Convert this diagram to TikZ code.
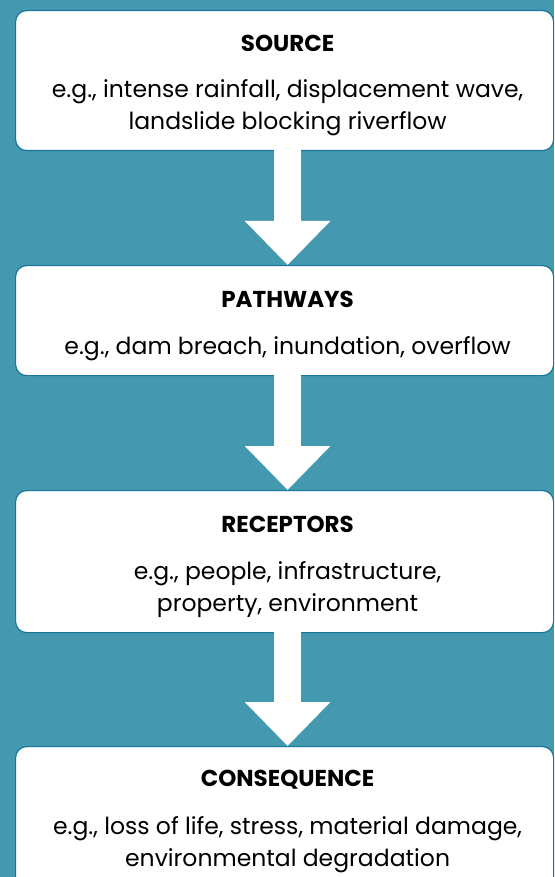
\documentclass[tikz,border=0pt]{standalone}
\usepackage{fontspec}
\setmainfont{Poppins}
\usetikzlibrary{arrows.meta,positioning}
\definecolor{sea}{RGB}{68,153,177}
\definecolor{rim}{RGB}{24,118,150}

\tikzset{
  card/.style={draw=rim, line width=1.2pt, fill=white, rounded corners=11pt,
    minimum width=538pt, inner sep=0pt, anchor=north west},
  title/.style={font=\bfseries\fontsize{23}{27}\selectfont, anchor=base, inner sep=0pt},
  note/.style={font=\fontsize{23.5}{32}\selectfont, align=center, anchor=base, inner sep=0pt},
  flow/.style={white, line width=27pt, -{Triangle[width=83pt,length=44pt]}}
}

\begin{document}
\begin{tikzpicture}[x=1pt,y=1pt]
\fill[sea] (0,0) rectangle (554,-877);
\useasboundingbox (0,0) rectangle (554,-877);

% the four stages
\node[card, minimum height=140pt] (src) at (15,-10) {};
\node[card, minimum height=110pt] (pth) at (15,-265) {};
\node[card, minimum height=142pt] (rcp) at (15,-490) {};
\node[card, minimum height=150pt] (csq) at (15,-746) {};

% base of a two-line note is its last line
\node[title] (srct) at ([xshift=3pt,yshift=-42pt]src.north) {SOURCE};
\node[note] (srcn) at ([xshift=3pt,yshift=-120pt]src.north)
  {e.g., intense rainfall, displacement wave,\\landslide blocking riverflow};

\node[title] (ptht) at ([xshift=3pt,yshift=-42pt]pth.north) {PATHWAYS};
\node[note] (pthn) at ([xshift=3pt,yshift=-89pt]pth.north)
  {e.g., dam breach, inundation, overflow};

\node[title] (rcpt) at ([xshift=3pt,yshift=-42pt]rcp.north) {RECEPTORS};
\node[note] (rcpn) at ([xshift=3pt,yshift=-121pt]rcp.north)
  {e.g., people, infrastructure,\\property, environment};

\node[title] (csqt) at ([xshift=3pt,yshift=-40pt]csq.north) {CONSEQUENCE};
\node[note] (csqn) at ([xshift=3pt,yshift=-120pt]csq.north)
  {e.g., loss of life, stress, material damage,\\environmental degradation};

% arrows between stages
\draw[flow] ([xshift=3pt,yshift=2pt]src.south) -- ([xshift=3pt]pth.north);
\draw[flow] ([xshift=3pt,yshift=2pt]pth.south) -- ([xshift=3pt]rcp.north);
\draw[flow] ([xshift=3pt,yshift=2pt]rcp.south) -- ([xshift=3pt]csq.north);
\end{tikzpicture}
\end{document}
